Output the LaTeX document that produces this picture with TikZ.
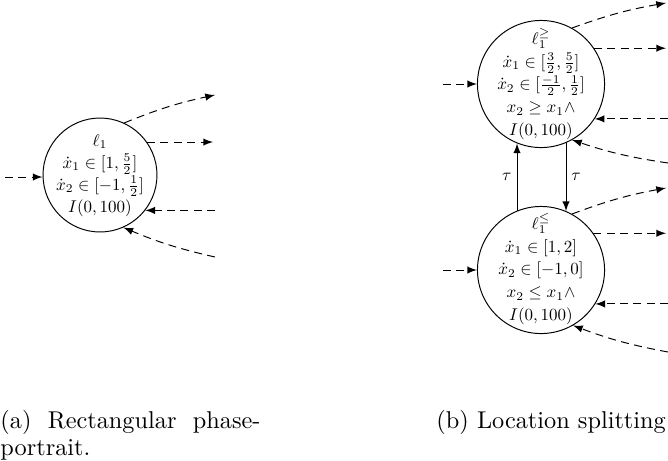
\RequirePackage{fix-cm}
\documentclass[tikz,border=0pt]{standalone}
\begin{document}
\begin{tikzpicture}[x=0.41152pt,y=-0.41152pt,
  loc/.style={circle,draw,inner sep=0pt},
  txt/.style={inner sep=0pt,align=center,font=\fontsize{10}{12.9}\selectfont,scale=0.7,transform shape},
  lbl/.style={inner sep=1pt,font=\fontsize{10}{12}\selectfont,scale=0.7,transform shape},
  dsh/.style={dash pattern=on 3.3pt off 2.2pt,-latex},
  sol/.style={-latex},
  capt/.style={anchor=base west,inner sep=0pt,font=\fontsize{10}{12}\selectfont}]
\useasboundingbox (0,0) rectangle (668,460);
% (a)
\node[loc,minimum size=46.9pt] (a) at (100,175) {};
\node[txt] (atext) at (100,175.5) {$\ell_1$\\$\dot x_1\in[1,\frac{5}{2}]$\\$\dot x_2\in[-1,\frac{1}{2}]$\\$I(0,100)$};
\coordinate (ain) at (5,177);
\coordinate (ao1) at (215,95);
\coordinate (ao2) at (213,142);
\coordinate (ai1) at (215,211);
\coordinate (ai2) at (215,257);
\draw[dsh] (ain) -- (ain -| a.west);
\draw[dsh] (a.65) to[bend left=5] (ao1);
\draw[dsh] (a.35) -- (a.35 -| ao2);
\draw[dsh] (a.-38 -| ai1) -- (a.-38);
\draw[dsh] (ai2) to[bend left=5] (a.-66);
% (b)
\node[loc,minimum size=52.3pt] (t) at (541,84) {};
\node[txt,font=\fontsize{10}{13.4}\selectfont] (ttext) at (541,84) {$\ell_1^{\geq}$\\$\dot x_1\in[\frac{3}{2},\frac{5}{2}]$\\$\dot x_2\in[\frac{-1}{2},\frac{1}{2}]$\\$x_2\geq x_1\wedge$\\$I(0,100)$};
\node[loc,minimum size=52.3pt] (b) at (541,270) {};
\node[txt,font=\fontsize{10}{13.4}\selectfont] (btext) at (541,269) {$\ell_1^{\leq}$\\$\dot x_1\in[1,2]$\\$\dot x_2\in[-1,0]$\\$x_2\leq x_1\wedge$\\$I(0,100)$};
\coordinate (tin) at (443,84);
\coordinate (bin) at (443,270);
\coordinate (to1) at (666,3);
\coordinate (to2) at (666,49);
\coordinate (ti1) at (668,118);
\coordinate (ti2) at (668,163);
\coordinate (bo1) at (666,188);
\coordinate (bo2) at (666,234);
\coordinate (bi1) at (668,303);
\coordinate (bi2) at (668,352);
\draw[dsh] (tin) -- (t.west);
\draw[dsh] (t.61) to[bend left=5] (to1);
\draw[dsh] (t.34) -- (t.34 -| to2);
\draw[dsh] (t.-33 -| ti1) -- (t.-33);
\draw[dsh] (ti2) to[bend left=5] (t.-61);
\draw[dsh] (bin) -- (b.west);
\draw[dsh] (b.61) to[bend left=5] (bo1);
\draw[dsh] (b.35) -- (b.35 -| bo2);
\draw[dsh] (b.-32 -| bi1) -- (b.-32);
\draw[dsh] (bi2) to[bend left=5] (b.-60);
\draw[sol] (b.112.4) -- node[lbl,left=2pt] (tau1) {$\tau$} (t.-112.4);
\draw[sol] (t.-67.6) -- node[lbl,right=2pt] (tau2) {$\tau$} (b.67.6);
% captions
\node[capt] (ca1) at (0,428) {\hbox to 107pt{(a)\hfil Rectangular\hfil phase-}};
\node[capt] (ca2) at (0,455) {portrait.};
\node[capt] (cb) at (436,428) {(b) Location splitting};
\end{tikzpicture}
\end{document}
